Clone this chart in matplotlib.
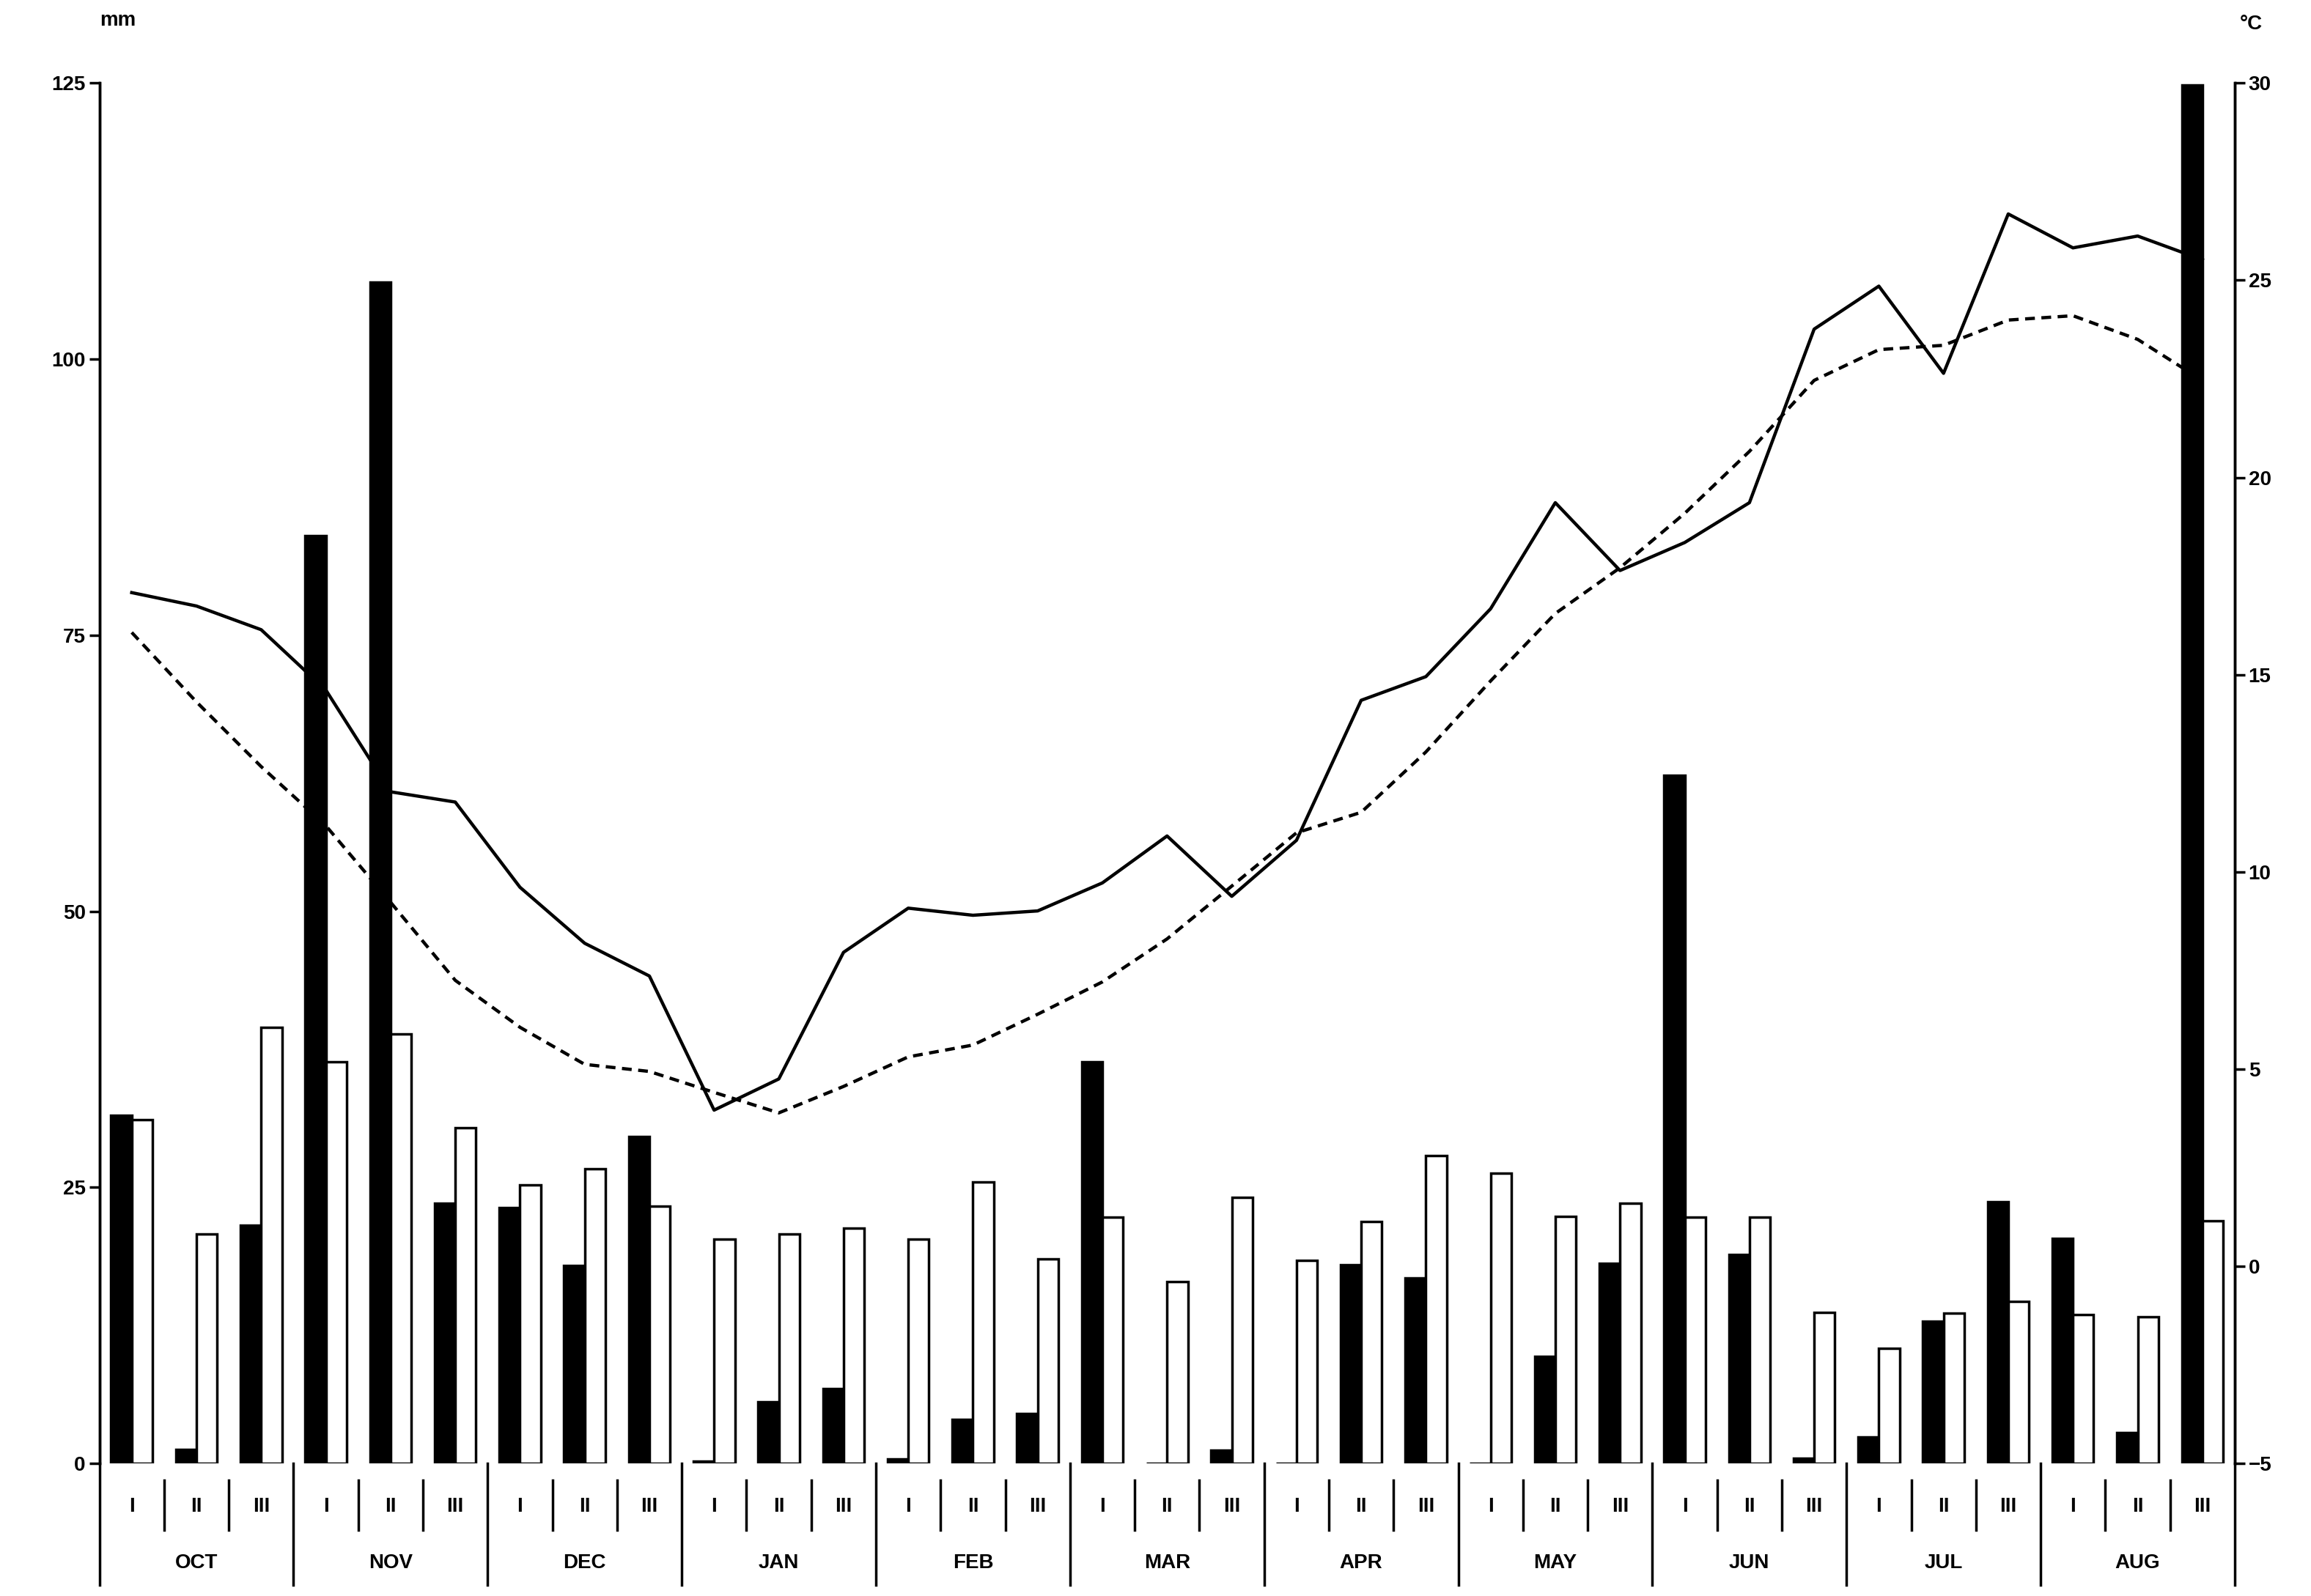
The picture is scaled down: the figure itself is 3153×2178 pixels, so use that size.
import matplotlib
matplotlib.use("Agg")
import matplotlib.pyplot as plt
import matplotlib.transforms as mtransforms
import numpy as np

plt.rcParams['font.family'] = ['Liberation Sans', 'DejaVu Sans']
plt.rcParams['font.weight'] = 'bold'

months = ["OCT", "NOV", "DEC", "JAN", "FEB", "MAR", "APR", "MAY", "JUN", "JUL", "AUG"]
dekads = ["I", "II", "III"]
precip_year = [31.5, 1.3, 21.6, 84, 107, 23.6, 23.2, 17.9, 29.6, 0.2, 5.6, 6.8,
               0.4, 4.0, 4.5, 36.4, 0, 1.2, 0, 18.0, 16.8, 0, 9.7, 18.1,
               62.3, 18.9, 0.5, 2.4, 12.9, 23.7, 20.4, 2.8, 124.8]
precip_lt = [31.1, 20.8, 39.5, 36.4, 38.9, 30.4, 25.2, 26.7, 23.3, 20.3, 20.8, 21.3,
             20.3, 25.5, 18.5, 22.3, 16.5, 24.1, 18.4, 21.9, 27.9, 26.3, 22.4, 23.6,
             22.3, 22.3, 13.7, 10.4, 13.6, 14.7, 13.5, 13.3, 22.0]
temp_year = [17.08, 16.74, 16.14, 14.61, 12.03, 11.77, 9.61, 8.19, 7.36, 3.96, 4.75, 7.96,
             9.08, 8.90, 9.01, 9.72, 10.91, 9.38, 10.80, 14.35, 14.95, 16.67, 19.36, 17.64,
             18.35, 19.36, 23.76, 24.85, 22.64, 26.68, 25.82, 26.12, 25.52]
temp_lt = [16.07, 14.31, 12.67, 11.17, 9.23, 7.25, 6.06, 5.12, 4.94, 4.41, 3.89, 4.56,
           5.31, 5.61, 6.39, 7.21, 8.30, 9.64, 10.99, 11.51, 13.04, 14.84, 16.55, 17.71,
           19.09, 20.66, 22.46, 23.24, 23.35, 23.99, 24.10, 23.50, 22.46]

n = len(precip_year)
x = np.arange(n)

fig = plt.figure(figsize=(31.53, 21.78), dpi=100)
ax = fig.add_axes([0.043, 0.083, 0.924, 0.865])
ax2 = ax.twinx()

ax.bar(x - 0.16, precip_year, width=0.32, color='black', edgecolor='black', linewidth=2.5, zorder=3)
ax.bar(x + 0.16, precip_lt, width=0.32, color='white', edgecolor='black', linewidth=2.5, zorder=3)
ax.set_ylim(0, 125)
ax.set_xlim(-0.5, n - 0.5)
ax.set_yticks(range(0, 126, 25))

ax2.plot(x, temp_year, color='black', lw=3.2, zorder=4)
ax2.plot(x, temp_lt, color='black', lw=3.2, ls=(0, (3, 2)), zorder=4)
ax2.set_ylim(-5, 30)
ax2.set_yticks(range(-5, 31, 5))

for a in (ax, ax2):
    a.spines['top'].set_visible(False)
    a.spines['bottom'].set_visible(False)
    a.spines['left'].set_linewidth(2.5)
    a.spines['right'].set_linewidth(2.5)
    a.tick_params(axis='y', labelsize=20, width=2.5, length=10, direction='out')
ax.set_xticks([])
for lab in ax.get_yticklabels() + ax2.get_yticklabels():
    lab.set_fontweight('bold')

trans = mtransforms.blended_transform_factory(ax.transData, ax.transAxes)
for i in range(n):
    ax.text(i, -0.031, dekads[i % 3], transform=trans, ha='center', va='center', fontsize=20, fontweight='bold')
    if i % 3 != 0:
        ax.plot([i - 0.5, i - 0.5], [-0.012, -0.048], transform=trans, color='black', lw=2.5, clip_on=False)
for m in range(len(months) + 1):
    xs = m * 3 - 0.5
    ax.plot([xs, xs], [0, -0.088], transform=trans, color='black', lw=2.5, clip_on=False)
for m, name in enumerate(months):
    ax.text(m * 3 + 1, -0.072, name, transform=trans, ha='center', va='center', fontsize=20, fontweight='bold')

fig.text(0.051, 0.987, "mm", ha='center', va='center', fontsize=20, fontweight='bold')
fig.text(0.974, 0.985, "°C", ha='center', va='center', fontsize=20, fontweight='bold')

fig.savefig("out.png", dpi=100)
